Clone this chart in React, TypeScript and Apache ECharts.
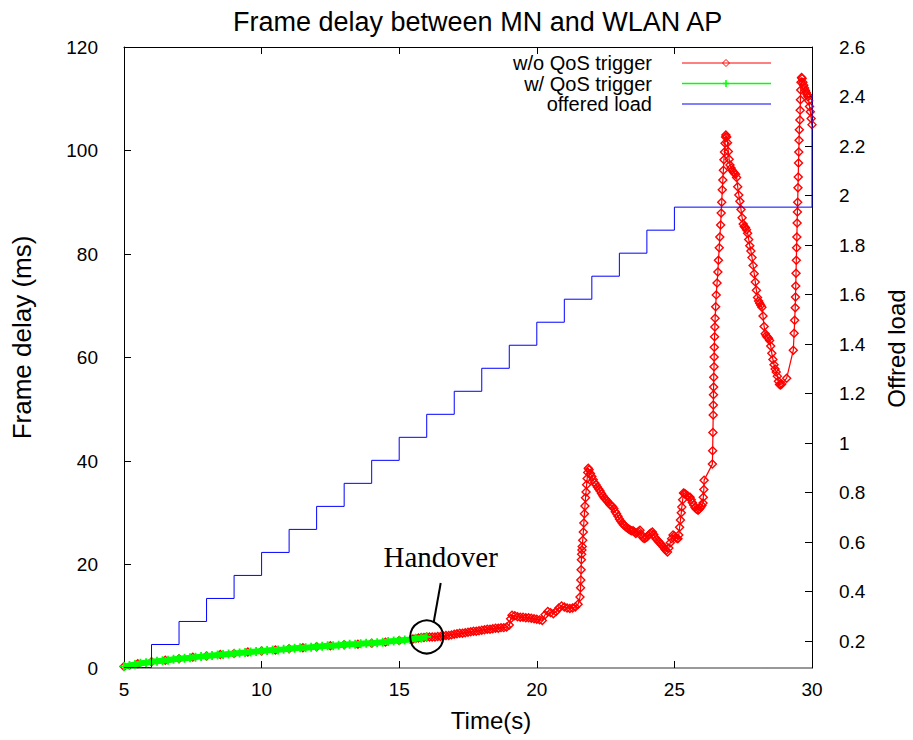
import React, { useEffect, useRef } from 'react';
import * as echarts from 'echarts';

const titleText = 'Frame delay between MN and WLAN AP';
const xAxisName = 'Time(s)';
const leftAxisName = 'Frame delay (ms)';
const rightAxisName = 'Offred load';
const seriesNames = ['w/o QoS trigger', 'w/ QoS trigger', 'offered load'];
const handoverLabel = 'Handover';
const handoverPoint = [16.0, 6.0];

const loadTicks = [0.2, 0.4, 0.6, 0.8, 1, 1.2, 1.4, 1.6, 1.8, 2, 2.2, 2.4, 2.6];

// offered load (right axis), step function
const loadTimes = [5, 6, 7, 8, 9, 10, 11, 12, 13, 14, 15, 16, 17, 18, 19, 20, 21, 22, 23, 24, 25, 30];
const loadValues = [0.093, 0.186, 0.279, 0.372, 0.465, 0.558, 0.651, 0.744, 0.837, 0.93, 1.023, 1.116, 1.209, 1.302, 1.395, 1.488, 1.581, 1.674, 1.767, 1.86, 1.953, 2.41];

// frame delay with QoS trigger (ms)
const greenData: [number, number][] = [
  [5.0, 0.3], [5.2, 0.5], [5.4, 0.7], [5.6, 0.9], [5.8, 1.0], [6.0, 1.2], [6.2, 1.3], [6.4, 1.4], [6.6, 1.5], [6.8, 1.7],
  [7.0, 1.8], [7.2, 1.9], [7.4, 2.0], [7.6, 2.1], [7.8, 2.2], [8.0, 2.3], [8.2, 2.4], [8.4, 2.5], [8.6, 2.6], [8.8, 2.7],
  [9.0, 2.8], [9.2, 2.9], [9.4, 3.0], [9.6, 3.1], [9.8, 3.2], [10.0, 3.3], [10.2, 3.4], [10.4, 3.5], [10.6, 3.5], [10.8, 3.6],
  [11.0, 3.7], [11.2, 3.8], [11.4, 3.9], [11.6, 3.9], [11.8, 4.0], [12.0, 4.1], [12.2, 4.2], [12.4, 4.3], [12.6, 4.3], [12.8, 4.4],
  [13.0, 4.5], [13.2, 4.6], [13.4, 4.6], [13.6, 4.7], [13.8, 4.8], [14.0, 4.8], [14.2, 4.9], [14.4, 5.0], [14.6, 5.1], [14.8, 5.2],
  [15.0, 5.3], [15.2, 5.4], [15.4, 5.5], [15.6, 5.7], [15.8, 5.8], [16.0, 6.0],
];

// frame delay without QoS trigger (ms)
const redData: [number, number][] = [
  [5.0, 0.3], [5.5, 0.8], [6.0, 1.2], [6.5, 1.5], [7.0, 1.8], [7.5, 2.1], [8.0, 2.3], [8.5, 2.6], [9.0, 2.8], [9.5, 3.1],
  [10.0, 3.3], [10.5, 3.5], [11.0, 3.7], [11.5, 3.9], [12.0, 4.1], [12.5, 4.3], [13.0, 4.5], [13.5, 4.6], [14.0, 4.8], [14.5, 5.0],
  [15.0, 5.3], [15.5, 5.6], [15.6, 5.7], [15.7, 5.8], [15.8, 5.9], [15.9, 5.9], [16.0, 6.0], [16.1, 6.0], [16.2, 6.0], [16.3, 6.0],
  [16.4, 6.1], [16.5, 6.1], [16.6, 6.2], [16.7, 6.3], [16.8, 6.3], [16.9, 6.4], [17.0, 6.5], [17.1, 6.6], [17.2, 6.7], [17.3, 6.7],
  [17.4, 6.8], [17.5, 6.9], [17.6, 7.0], [17.7, 7.1], [17.8, 7.1], [17.9, 7.2], [18.0, 7.3], [18.1, 7.4], [18.2, 7.5], [18.3, 7.5],
  [18.4, 7.6], [18.5, 7.7], [18.6, 7.7], [18.7, 7.8], [18.8, 7.8], [18.9, 7.9], [19.0, 8.3], [19.05, 9.5], [19.1, 10.2], [19.2, 10.1],
  [19.3, 9.9], [19.4, 9.8], [19.5, 9.8], [19.6, 9.7], [19.7, 9.7], [19.8, 9.6], [19.9, 9.5], [20.0, 9.4], [20.1, 9.3], [20.2, 9.2],
  [20.3, 10.3], [20.4, 10.9], [20.5, 10.7], [20.6, 10.5], [20.7, 10.9], [20.8, 11.6], [20.9, 12.0], [21.0, 11.8], [21.1, 11.6], [21.2, 11.5],
  [21.3, 11.6], [21.4, 11.8], [21.5, 12.3],
  [21.57, 13.7], [21.59, 15.5], [21.6, 17.0], [21.61, 19.0], [21.62, 20.9], [21.63, 22.0], [21.64, 22.8], [21.65, 23.5], [21.67, 24.7],
  [21.69, 26.3], [21.71, 28.0], [21.73, 29.8], [21.75, 31.3], [21.77, 32.9], [21.79, 34.0], [21.81, 35.4], [21.83, 36.6], [21.85, 37.8], [21.87, 38.6],
  [21.9, 38.3], [21.95, 37.6], [22.0, 37.0], [22.05, 36.4], [22.1, 35.8], [22.15, 35.4], [22.2, 35.0], [22.25, 34.6], [22.3, 34.2], [22.35, 33.7],
  [22.4, 33.3], [22.45, 32.9], [22.5, 32.6], [22.55, 32.3], [22.6, 32.0], [22.65, 31.6], [22.7, 31.4], [22.75, 31.2], [22.8, 30.8], [22.85, 30.2],
  [22.9, 29.8], [22.95, 29.3], [23.0, 28.8], [23.05, 28.4], [23.1, 28.0], [23.15, 27.7], [23.2, 27.5], [23.25, 27.2], [23.3, 27.0], [23.35, 26.8],
  [23.4, 26.6], [23.45, 26.5], [23.5, 26.5], [23.55, 26.3], [23.6, 26.0], [23.65, 26.2], [23.7, 26.4], [23.75, 26.6], [23.8, 25.8], [23.85, 25.2],
  [23.9, 25.0], [23.95, 25.1], [24.0, 25.3], [24.05, 25.6], [24.1, 25.9], [24.15, 26.1], [24.2, 26.3], [24.25, 25.8], [24.3, 25.2], [24.35, 24.9],
  [24.4, 24.6], [24.45, 24.3], [24.5, 24.0], [24.55, 23.7], [24.6, 23.4], [24.65, 23.0], [24.7, 22.7], [24.75, 22.4], [24.8, 23.2], [24.85, 24.2],
  [24.9, 25.0], [24.95, 25.7], [25.0, 25.5], [25.05, 25.2], [25.1, 25.0], [25.13, 25.0],
  [25.16, 25.7], [25.19, 27.2], [25.22, 28.6], [25.25, 30.0], [25.27, 31.1], [25.3, 32.5], [25.33, 33.8], [25.37, 33.7], [25.4, 33.6], [25.45, 33.4],
  [25.5, 33.2], [25.57, 33.0], [25.61, 32.5], [25.65, 32.0], [25.7, 31.5], [25.75, 31.0], [25.8, 30.7], [25.86, 30.5], [25.9, 30.7], [25.95, 31.0],
  [26.0, 31.4], [26.04, 31.9], [26.05, 33.0], [26.07, 34.5], [26.08, 36.3],
  [26.38, 39.4], [26.39, 42.0], [26.4, 45.5], [26.41, 48.9], [26.415, 50.8], [26.42, 52.8], [26.425, 54.3], [26.43, 56.2], [26.44, 58.2], [26.445, 60.1],
  [26.45, 62.0], [26.46, 64.0], [26.47, 65.9], [26.48, 67.6], [26.5, 69.8], [26.52, 72.1], [26.55, 74.4], [26.58, 76.5], [26.6, 78.8], [26.63, 81.2],
  [26.65, 83.3], [26.68, 85.6], [26.7, 87.9], [26.72, 90.0], [26.74, 92.4], [26.76, 94.3], [26.78, 96.2], [26.8, 98.2], [26.82, 99.7], [26.84, 101.4],
  [26.86, 102.6], [26.87, 103.0],
  [26.9, 102.6], [26.93, 101.5], [26.96, 99.8], [26.99, 98.3], [27.02, 97.2], [27.06, 96.6], [27.1, 96.2], [27.14, 95.9], [27.18, 95.6], [27.22, 95.4],
  [27.26, 94.8], [27.3, 93.0], [27.34, 91.4], [27.38, 90.2], [27.42, 88.6], [27.46, 87.0], [27.5, 85.8], [27.54, 85.3], [27.58, 85.1], [27.62, 84.7],
  [27.66, 84.0], [27.7, 82.8], [27.74, 81.6], [27.78, 80.6], [27.82, 79.3], [27.86, 77.8], [27.9, 76.2], [27.94, 74.6], [27.98, 73.0], [28.02, 71.6],
  [28.06, 70.9], [28.1, 70.5], [28.14, 70.1], [28.18, 69.7], [28.22, 68.0], [28.26, 66.0], [28.3, 64.6], [28.34, 64.2], [28.38, 63.9], [28.42, 63.7],
  [28.46, 63.3], [28.5, 62.2], [28.54, 60.8], [28.58, 59.6], [28.62, 58.6], [28.66, 57.8], [28.7, 57.2], [28.74, 56.4], [28.78, 55.4], [28.82, 54.8],
  [28.86, 54.7], [28.9, 54.9], [29.08, 56.0], [29.32, 61.4], [29.35, 64.7], [29.37, 67.2], [29.39, 69.6], [29.4, 71.7], [29.41, 73.8], [29.42, 76.3],
  [29.43, 78.8], [29.44, 81.2], [29.45, 83.3], [29.46, 86.0], [29.47, 88.1], [29.48, 90.0], [29.49, 92.8], [29.5, 94.9], [29.51, 97.6], [29.52, 99.7],
  [29.53, 102.0], [29.54, 104.0], [29.56, 105.9], [29.57, 107.8], [29.58, 109.8], [29.59, 111.7], [29.6, 113.2], [29.62, 114.1],
  [29.64, 113.9], [29.67, 113.2], [29.7, 112.6], [29.73, 112.1], [29.76, 111.6], [29.79, 111.2], [29.82, 110.8], [29.85, 110.4], [29.88, 109.6], [29.91, 108.5],
  [29.94, 107.5], [29.97, 106.2], [30.0, 105.0],
];

const RED = '#ff0000';
const GREEN = '#00ff00';
const BLUE = '#0000ff';
const SANS = '"Liberation Sans", Arial, Helvetica, sans-serif';
const SERIF = '"Liberation Serif", "Times New Roman", serif';

export default function App() {
  const ref = useRef<HTMLDivElement>(null);

  useEffect(() => {
    document.body.style.margin = '0';
    const chart = echarts.init(ref.current!, null, { renderer: 'svg' });

    const loadData = loadTimes.map((t, i) => [t, loadValues[i]]);

    const option: any = {
      animation: false,
      backgroundColor: '#ffffff',
      title: {
        text: titleText,
        left: 228,
        top: 3,
        textStyle: { fontFamily: SANS, fontSize: 27, fontWeight: 'normal', color: '#000' },
      },
      grid: { left: 124, right: 101, top: 47, bottom: 72, containLabel: false, outerBoundsMode: 'none' },
      xAxis: [
        {
          type: 'value',
          min: 5,
          max: 30,
          interval: 5,
          position: 'bottom',
          name: xAxisName,
          nameLocation: 'middle',
          nameGap: 40,
          nameTextStyle: { fontFamily: SANS, fontSize: 24, color: '#000', padding: [0, 0, 0, 46] },
          axisLine: { show: true, onZero: false, lineStyle: { color: '#777', width: 1.5 } },
          axisTick: { show: true, inside: true, length: 7, lineStyle: { color: '#000' } },
          axisLabel: { fontFamily: SANS, fontSize: 19, color: '#000', margin: 12 },
          splitLine: { show: false },
        },
        {
          type: 'value',
          min: 5,
          max: 30,
          interval: 5,
          position: 'top',
          axisLine: { show: true, onZero: false, lineStyle: { color: '#000', width: 1 } },
          axisTick: { show: true, inside: true, length: 7, lineStyle: { color: '#000' } },
          axisLabel: { show: false },
          splitLine: { show: false },
        },
      ],
      yAxis: [
        {
          type: 'value',
          min: 0,
          max: 120,
          interval: 20,
          position: 'left',
          name: leftAxisName,
          nameLocation: 'middle',
          nameGap: 89,
          nameTextStyle: { fontFamily: SANS, fontSize: 26, color: '#000', padding: [0, 0, 0, 40] },
          axisLine: { show: true, onZero: false, lineStyle: { color: '#000', width: 1 } },
          axisTick: { show: true, inside: true, length: 7, lineStyle: { color: '#000' } },
          axisLabel: { fontFamily: SANS, fontSize: 19, color: '#000', margin: 26 },
          splitLine: { show: false },
        },
        {
          type: 'value',
          min: 0.091,
          max: 2.6,
          position: 'right',
          name: rightAxisName,
          nameLocation: 'middle',
          nameGap: 72,
          nameTextStyle: { fontFamily: SANS, fontSize: 24, color: '#000', padding: [0, 0, 0, 18] },
          axisLine: { show: true, onZero: false, lineStyle: { color: '#000', width: 1 } },
          axisTick: { show: true, inside: true, length: 7, customValues: loadTicks, lineStyle: { color: '#000' } },
          axisLabel: { fontFamily: SANS, fontSize: 19, color: '#000', margin: 27, customValues: loadTicks },
          splitLine: { show: false },
        },
      ],
      series: [
        {
          name: seriesNames[0],
          type: 'line',
          xAxisIndex: 0,
          yAxisIndex: 0,
          data: redData,
          clip: false,
          symbol: 'diamond',
          symbolSize: 8,
          showSymbol: true,
          lineStyle: { color: RED, width: 1.2 },
          itemStyle: { color: 'rgba(255,255,255,0)', borderColor: RED, borderWidth: 1.4 },
          z: 2,
        },
        {
          name: seriesNames[1],
          type: 'line',
          xAxisIndex: 0,
          yAxisIndex: 0,
          data: greenData,
          clip: false,
          symbol: 'path://M4,0H6V4H10V6H6V10H4V6H0V4H4Z',
          symbolSize: 9,
          showSymbol: true,
          lineStyle: { color: GREEN, width: 6 },
          itemStyle: { color: GREEN, borderWidth: 0 },
          z: 3,
        },
        {
          name: seriesNames[2],
          type: 'line',
          xAxisIndex: 0,
          yAxisIndex: 1,
          data: loadData,
          step: 'end',
          showSymbol: false,
          symbol: 'none',
          lineStyle: { color: BLUE, width: 1 },
          z: 4,
        },
      ],
    };

    chart.setOption(option);

    const p = chart.convertToPixel({ seriesIndex: 1 }, handoverPoint) as number[];
    const hx = p[0];
    const hy = p[1];

    const rowY = [63, 83.5, 104];
    const textRight = 652;
    const lineX1 = 682;
    const lineX2 = 771;
    const midX = 726;

    const graphic: any[] = [
      // legend
      ...seriesNames.map((name, i) => ({
        type: 'text',
        x: textRight,
        y: rowY[i],
        style: { text: name, fill: '#000', font: `20px ${SANS}`, align: 'right', verticalAlign: 'middle' },
        z: 10,
      })),
      { type: 'line', shape: { x1: lineX1, y1: rowY[0], x2: lineX2, y2: rowY[0] }, style: { stroke: RED, lineWidth: 1 }, z: 10 },
      { type: 'polygon', shape: { points: [[midX, rowY[0] - 3.5], [midX + 3.5, rowY[0]], [midX, rowY[0] + 3.5], [midX - 3.5, rowY[0]]] }, style: { fill: 'none', stroke: RED, lineWidth: 1 }, z: 10 },
      { type: 'line', shape: { x1: lineX1, y1: rowY[1], x2: lineX2, y2: rowY[1] }, style: { stroke: GREEN, lineWidth: 1.5 }, z: 10 },
      { type: 'line', shape: { x1: midX - 3, y1: rowY[1], x2: midX + 3, y2: rowY[1] }, style: { stroke: GREEN, lineWidth: 1.5 }, z: 10 },
      { type: 'line', shape: { x1: midX, y1: rowY[1] - 3.5, x2: midX, y2: rowY[1] + 3.5 }, style: { stroke: GREEN, lineWidth: 1.5 }, z: 10 },
      { type: 'line', shape: { x1: lineX1, y1: rowY[2], x2: lineX2, y2: rowY[2] }, style: { stroke: BLUE, lineWidth: 1 }, z: 10 },
      // handover annotation
      { type: 'circle', shape: { cx: hx, cy: hy, r: 16.5 }, style: { fill: 'none', stroke: '#000', lineWidth: 2 }, z: 10 },
      { type: 'line', shape: { x1: hx + 7, y1: hy - 15, x2: hx + 14, y2: hy - 54 }, style: { stroke: '#000', lineWidth: 2 }, z: 10 },
      {
        type: 'text',
        x: hx + 14,
        y: hy - 80,
        style: { text: handoverLabel, fill: '#000', font: `29px ${SERIF}`, align: 'center', verticalAlign: 'middle' },
        z: 10,
      },
    ];

    chart.setOption({ graphic });

    return () => {
      chart.dispose();
    };
  }, []);

  return <div ref={ref} style={{ width: 913, height: 740 }} />;
}
